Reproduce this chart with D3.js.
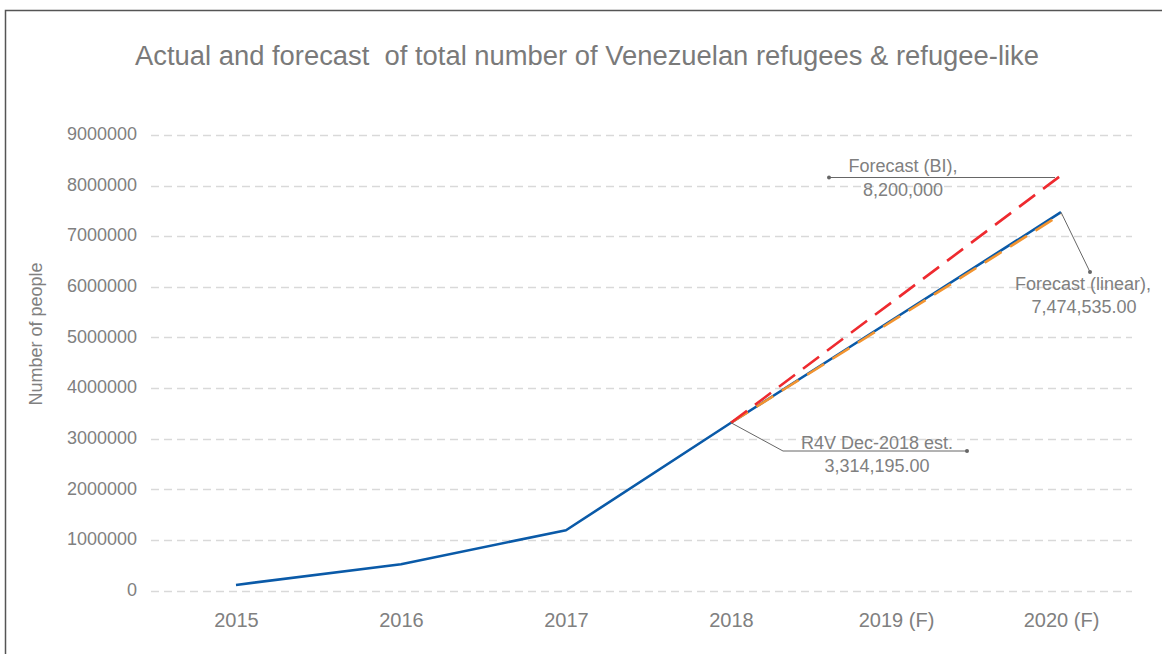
<!DOCTYPE html>
<html><head><meta charset="utf-8">
<script src="https://cdn.jsdelivr.net/npm/d3@7"></script>
<style>
html,body{margin:0;padding:0;background:#fff;}
svg{display:block;font-family:"Liberation Sans",Arial,sans-serif;}
</style></head>
<body><svg id="c" width="1162" height="654"></svg>
<script>
const categories = ["2015","2016","2017","2018","2019 (F)","2020 (F)"];
const actual = [110000, 520000, 1190000, 3314195, 5394365, 7474535];
const forecastLinear = [null, null, null, 3314195, 5370000, 7430000];
const forecastBI = [null, null, null, 3314195, 5757000, 8200000];
const yTicks = [0,1000000,2000000,3000000,4000000,5000000,6000000,7000000,8000000,9000000];

const svg = d3.select("#c");
const W = 1162, H = 654;
const gray = "#808080";
const FF = "Liberation Sans, Arial, sans-serif";

// border
svg.append("path").attr("d", `M5.5,${H} L5.5,10.5 L${W},10.5`).attr("fill","none").attr("stroke","#555").attr("stroke-width",1.5);

const x = d3.scalePoint().domain(categories).range([236, 1061]);
const y = d3.scaleLinear().domain([0, 9000000]).range([590.5, 135]);
const gridL = 151, gridR = 1132;

// title
svg.append("text").attr("x", 587).attr("y", 65).attr("text-anchor","middle")
  .attr("font-size", 27).attr("fill", "#7a7a7a")
  .attr("textLength", 904).attr("lengthAdjust","spacingAndGlyphs")
  .style("white-space","pre")
  .text("Actual and forecast  of total number of Venezuelan refugees & refugee-like");

// grid
svg.append("g").selectAll("line").data(yTicks).join("line")
  .attr("x1", gridL).attr("x2", gridR)
  .attr("y1", d => Math.round(y(d)) + 0.5).attr("y2", d => Math.round(y(d)) + 0.5)
  .attr("stroke", "#d9d9d9").attr("stroke-width", 1.3).attr("stroke-dasharray", "8,5");

// y axis
const yAxis = d3.axisLeft(y).tickValues(yTicks).tickSize(0).tickPadding(0).tickFormat(d3.format("d"));
const gy = svg.append("g").attr("transform", `translate(137,-1)`).call(yAxis);
gy.select(".domain").remove();
gy.selectAll("text").attr("font-size", 18).attr("fill", gray).attr("font-family", FF);

// x axis labels
const xAxis = d3.axisBottom(x).tickSize(0).tickPadding(0);
const gx = svg.append("g").attr("transform", `translate(0,613)`).call(xAxis);
gx.select(".domain").remove();
gx.selectAll("text").attr("font-size", 20).attr("fill", gray).attr("font-family", FF);

// y axis title
svg.append("text").attr("transform", "translate(42,334) rotate(-90)").attr("text-anchor","middle")
  .attr("font-size", 18).attr("fill", gray).text("Number of people");

// lines
const line = d3.line().defined(d => d[1] != null).x(d => x(d[0])).y(d => y(d[1]));
const pts = arr => categories.map((c, i) => [c, arr[i]]);

svg.append("path").datum(pts(actual)).attr("d", line)
  .attr("fill","none").attr("stroke","#0a5aa8").attr("stroke-width",2.6).attr("stroke-linejoin","round");
svg.append("path").datum(pts(forecastLinear)).attr("d", line)
  .attr("fill","none").attr("stroke","#f29430").attr("stroke-width",2.6).attr("stroke-dasharray","20,10");
svg.append("path").datum(pts(forecastBI)).attr("d", line)
  .attr("fill","none").attr("stroke","#ee2a2f").attr("stroke-width",2.6).attr("stroke-dasharray","20,10");

// annotations
const ann = svg.append("g").attr("font-size", 18).attr("fill", gray).attr("text-anchor","middle");
const lc = "#666";
// R4V
const p18 = [x("2018"), y(actual[3])];
svg.append("polyline").attr("points", `${p18[0]},${p18[1]} 783,451 967,451`).attr("fill","none").attr("stroke",lc).attr("stroke-width",1);
svg.append("circle").attr("cx",967).attr("cy",451).attr("r",2).attr("fill",lc);
ann.append("text").attr("x",877).attr("y",449).text("R4V Dec-2018 est.");
ann.append("text").attr("x",877).attr("y",472).text("3,314,195.00");
// BI
svg.append("line").attr("x1",829).attr("x2",1055).attr("y1",177.5).attr("y2",177.5).attr("stroke",lc).attr("stroke-width",1);
svg.append("circle").attr("cx",829).attr("cy",177.5).attr("r",2).attr("fill",lc);
ann.append("text").attr("x",903).attr("y",172).text("Forecast (BI),");
ann.append("text").attr("x",903).attr("y",196).text("8,200,000");
// linear
const p20 = [x("2020 (F)"), y(actual[5])];
svg.append("line").attr("x1",p20[0]).attr("y1",p20[1]).attr("x2",1090).attr("y2",272).attr("stroke",lc).attr("stroke-width",1);
svg.append("circle").attr("cx",1090).attr("cy",272).attr("r",2).attr("fill",lc);
ann.append("text").attr("x",1083).attr("y",290).text("Forecast (linear),");
ann.append("text").attr("x",1084).attr("y",313).text("7,474,535.00");
</script></body></html>
